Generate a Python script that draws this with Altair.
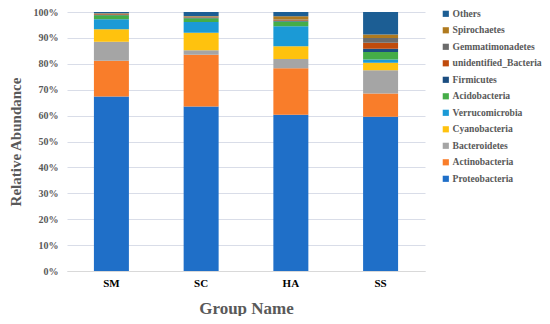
import altair as alt
import pandas as pd

groups = ["SM", "SC", "HA", "SS"]
phyla = ["Proteobacteria", "Actinobacteria", "Bacteroidetes", "Cyanobacteria",
         "Verrucomicrobia", "Acidobacteria", "Firmicutes", "unidentified_Bacteria",
         "Gemmatimonadetes", "Spirochaetes", "Others"]
colors = ["#1f6fc8", "#f97d2a", "#a5a5a5", "#ffc20e", "#1b9ad6", "#45ad48",
          "#1b4d80", "#c04b0c", "#6b6b6b", "#b07a1e", "#1c5e94"]

# percent values per group, in order of phyla
SM = [67.4, 13.8, 7.3, 4.8, 3.9, 1.5, 0.1, 0.3, 0.2, 0.2, 0.5]
SC = [63.5, 20.0, 1.7, 6.8, 4.1, 1.5, 0.2, 0.2, 0.3, 0.2, 1.5]
HA = [60.3, 18.0, 3.6, 4.9, 7.7, 1.8, 0.2, 0.3, 0.3, 1.3, 1.6]
SS = [59.6, 8.9, 9.0, 2.9, 1.3, 2.9, 1.2, 2.3, 1.9, 1.3, 8.7]

rows = []
for g, vals in zip(groups, [SM, SC, HA, SS]):
    for i, (p, v) in enumerate(zip(phyla, vals)):
        rows.append({"group": g, "phylum": p, "value": v / 100.0, "idx": i})
df = pd.DataFrame(rows)

font = "Liberation Serif"
gray = "#595959"

chart = alt.Chart(df).mark_bar().encode(
    x=alt.X("group:N", sort=groups,
            scale=alt.Scale(paddingInner=0.61, paddingOuter=0.3),
            axis=alt.Axis(title="Group Name", labelAngle=0, ticks=False,
                          domain=True, domainColor="#d9d9d9",
                          labelFontWeight="bold", labelFontSize=11,
                          labelColor="#000000", labelPadding=6,
                          titleFontWeight="bold", titleFontSize=17,
                          titleColor=gray, titlePadding=12)),
    y=alt.Y("value:Q", stack="zero",
            scale=alt.Scale(domain=[0, 1], nice=False),
            axis=alt.Axis(title="Relative Abundance", format=".0%",
                          values=[i / 10 for i in range(11)],
                          ticks=False, domain=False, grid=True,
                          gridColor="#d9dde8", gridWidth=1,
                          labelFontWeight="bold", labelFontSize=10,
                          labelColor=gray, labelPadding=9,
                          titleFontWeight="bold", titleFontSize=15,
                          titleColor=gray, titlePadding=10)),
    color=alt.Color("phylum:N",
                    scale=alt.Scale(domain=phyla[::-1], range=colors[::-1]),
                    legend=alt.Legend(title=None, orient="none", legendX=374, legendY=-3,
                                      symbolType="square", symbolSize=38,
                                      symbolStrokeWidth=0, rowPadding=5.5,
                                      labelFont=font, labelFontWeight="bold",
                                      labelFontSize=9.6, labelColor=gray,
                                      labelOffset=2, labelLimit=200)),
    order=alt.Order("idx:Q", sort="ascending"),
).properties(
    width=358, height=259,
    autosize=alt.AutoSizeParams(type="none"),
    padding={"left": 59, "top": 4, "right": 117, "bottom": 45},
).configure(font=font).configure_axis(
    labelFont=font, titleFont=font
).configure_legend(labelFont=font).configure_view(stroke=None)

chart.save("out.html", embed_options={"renderer": "svg", "actions": False})
